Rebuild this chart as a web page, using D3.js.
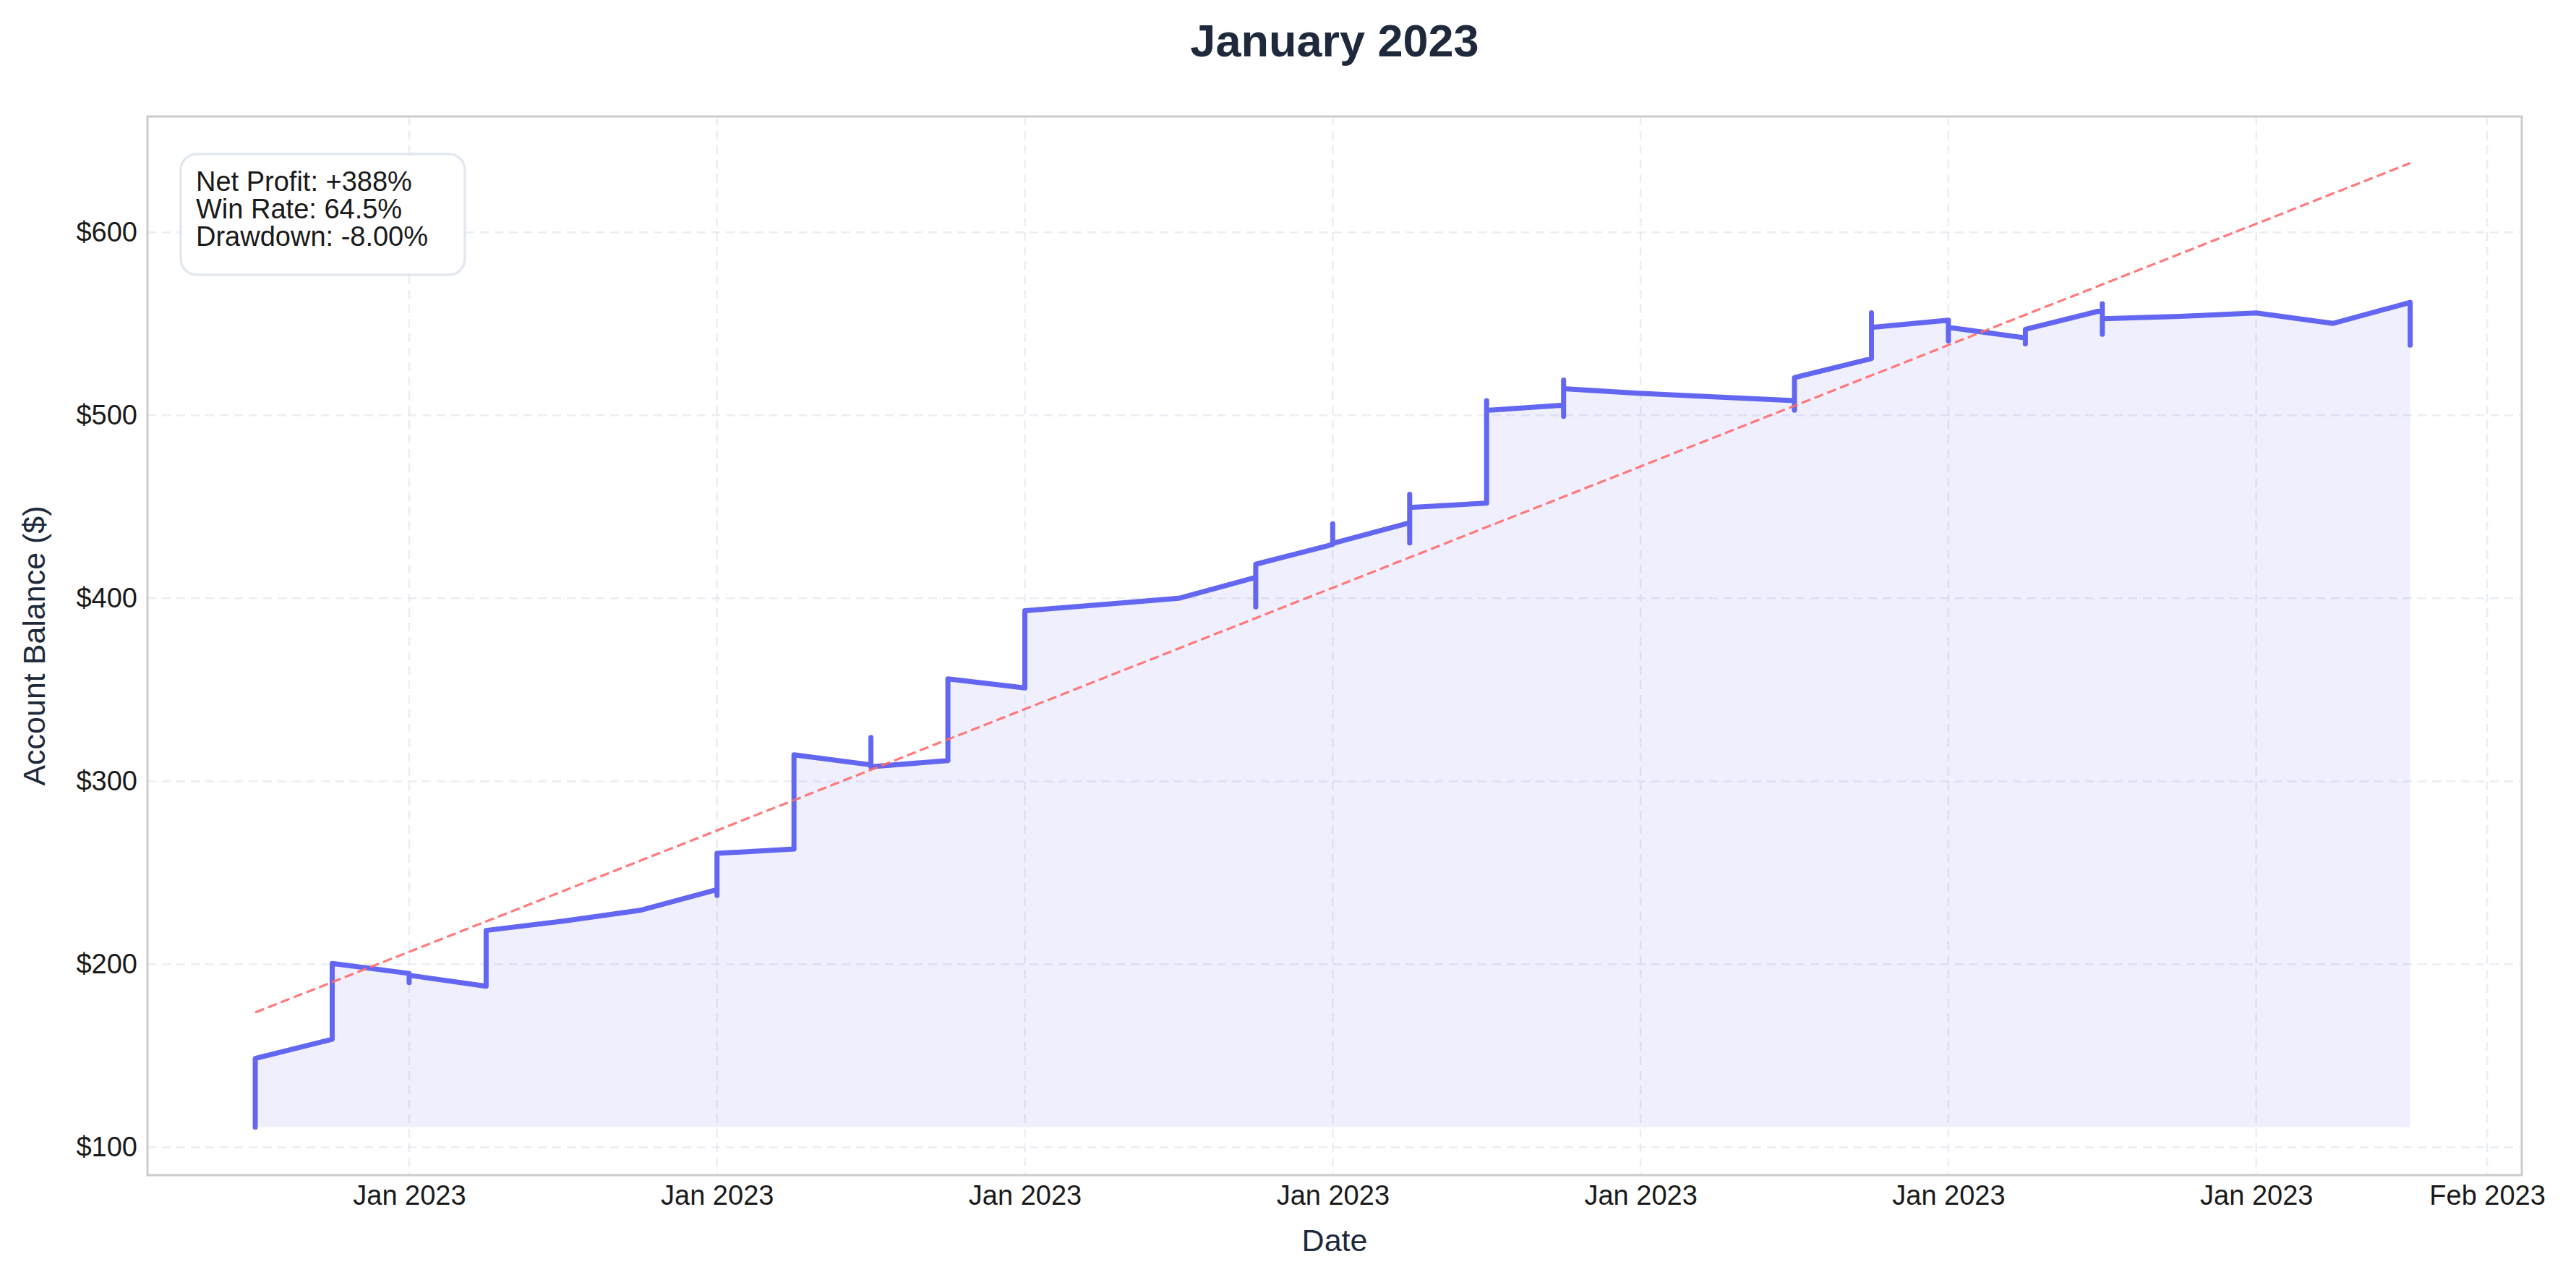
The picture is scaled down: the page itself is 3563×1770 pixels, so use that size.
<!DOCTYPE html>
<html><head><meta charset="utf-8">
<script src="https://cdn.jsdelivr.net/npm/d3@7"></script>
<style>body{margin:0;background:#fff}svg{display:block}text{font-family:"Liberation Sans",Arial,sans-serif}</style>
</head><body><svg id="c" width="3563" height="1770"></svg>
<script>
// equity curve: day of January 2023 and balance (repeated days = intraday trades)
const days = [3,3,4,4,5,5,5,6,6,7,8,9,9,9,10,10,11,11,11,12,12,13,13,14,15,16,16,16,17,17,17,18,18,18,18,19,19,19,20,20,20,20,21,22,23,23,23,24,24,24,25,25,25,26,26,26,27,27,27,27,28,29,30,31,31];
const balance = [111,148.6,159,200.5,195,190,194,188,218.5,223.6,229.5,240.8,237.6,260.6,263,314.5,309,324,308,311.3,356,351,393.2,396.6,400,411.4,395.3,418.6,429.4,440.7,430,441.3,456.8,430.3,449.6,452,508,502.7,505.5,519.3,499.4,514.5,512,510,508,502.8,520.6,531,556,548,552,540.6,548,542.3,539,547,557.4,561,544.3,552.8,554,555.9,550.2,561.7,538.3];
const trendDays = [3,31];
const trendValues = [173.7,637.8];
const yTicks = [100,200,300,400,500,600];
const xTickDays = [5,9,13,17,21,25,29,32];
const xTickLabels = ["Jan 2023","Jan 2023","Jan 2023","Jan 2023","Jan 2023","Jan 2023","Jan 2023","Feb 2023"];
const stats = ["Net Profit: +388%","Win Rate: 64.5%","Drawdown: -8.00%"];

const svg = d3.select("#c");
const L=204, R=3488, T=161, B=1625;
const x = d3.scaleLinear().domain([1.60,32.45]).range([L,R]);
const y = d3.scaleLinear().domain([84.8,663.3]).range([B,T]);

// grid
svg.append("g").selectAll("line").data(yTicks).join("line")
  .attr("x1",L).attr("x2",R).attr("y1",d=>y(d)).attr("y2",d=>y(d))
  .attr("stroke","#e2e8f0").attr("stroke-width",2.5).attr("stroke-dasharray","12,8").attr("opacity",0.7);
svg.append("g").selectAll("line").data(xTickDays).join("line")
  .attr("y1",T).attr("y2",B).attr("x1",d=>x(d)).attr("x2",d=>x(d))
  .attr("stroke","#e2e8f0").attr("stroke-width",2.5).attr("stroke-dasharray","12,8").attr("opacity",0.7);

const pts = days.map((d,i)=>[d,balance[i]]);
const base = d3.min(balance);
svg.append("path").datum(pts)
  .attr("d",d3.area().x(d=>x(d[0])).y0(y(base)).y1(d=>y(d[1])))
  .attr("fill","#6366f1").attr("opacity",0.1);
svg.append("path").datum(pts)
  .attr("d",d3.line().x(d=>x(d[0])).y(d=>y(d[1])))
  .attr("fill","none").attr("stroke","#6366f1").attr("stroke-width",7)
  .attr("stroke-linejoin","round").attr("stroke-linecap","round");
svg.append("path").datum(trendDays.map((d,i)=>[d,trendValues[i]]))
  .attr("d",d3.line().x(d=>x(d[0])).y(d=>y(d[1])))
  .attr("fill","none").attr("stroke","#ff6b6b").attr("stroke-width",3.2)
  .attr("stroke-dasharray","13,6").attr("opacity",0.9);

// frame
svg.append("rect").attr("x",L).attr("y",T).attr("width",R-L).attr("height",B-T)
  .attr("fill","none").attr("stroke","#cccccc").attr("stroke-width",3);

// axes
const xa = svg.append("g").attr("transform",`translate(0,${B})`)
  .call(d3.axisBottom(x).tickValues(xTickDays).tickFormat((d,i)=>xTickLabels[i]).tickSize(0).tickPadding(14));
const ya = svg.append("g").attr("transform",`translate(${L},0)`)
  .call(d3.axisLeft(y).tickValues(yTicks).tickFormat(d=>"$"+d).tickSize(0).tickPadding(14));
[xa,ya].forEach(a=>{a.select(".domain").remove();a.selectAll("text").attr("font-size",38).attr("fill","#1a1a1a")
  .attr("font-family","'Liberation Sans',Arial,sans-serif");});

svg.append("text").attr("x",(L+R)/2).attr("y",1730).attr("text-anchor","middle")
  .attr("font-size",43).attr("fill","#1e293b").text("Date");
svg.append("text").attr("transform",`translate(62,${(T+B)/2}) rotate(-90)`).attr("text-anchor","middle")
  .attr("font-size",43).attr("fill","#1e293b").text("Account Balance ($)");
svg.append("text").attr("x",(L+R)/2).attr("y",78).attr("text-anchor","middle")
  .attr("font-size",63).attr("font-weight","bold").attr("fill","#1e293b").text("January 2023");

// stats box
svg.append("rect").attr("x",250).attr("y",213).attr("width",393).attr("height",167).attr("rx",22)
  .attr("fill","#fff").attr("stroke","#e2e8f0").attr("stroke-width",3.5);
svg.append("g").selectAll("text").data(stats).join("text")
  .attr("x",271).attr("y",(d,i)=>264+i*38).attr("font-size",38).attr("fill","#1a1a1a").text(d=>d);
</script></body></html>
